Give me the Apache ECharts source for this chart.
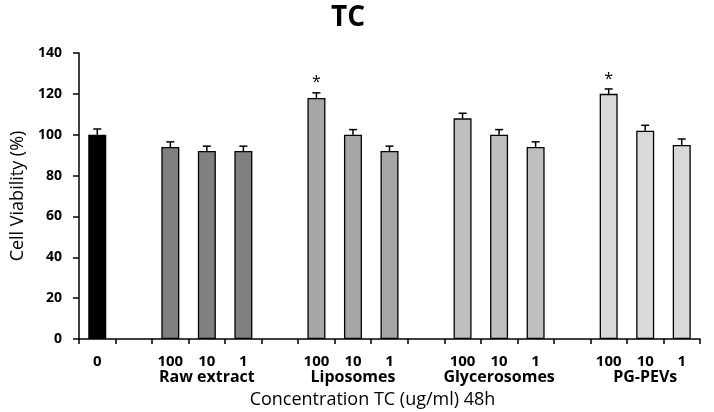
<!DOCTYPE html>
<html>
<head>
<meta charset="utf-8">
<script src="https://cdn.jsdelivr.net/npm/echarts@6/dist/echarts.min.js"></script>
<style>html,body{margin:0;padding:0;background:#fff}#c{width:714px;height:412px}</style>
</head>
<body>
<div id="c"></div>
<script>
const categories = ['0', '', '100', '10', '1', '', '100', '10', '1', '', '100', '10', '1', '', '100', '10', '1'];
const groupNames = ['', '', '', 'Raw extract', '', '', '', 'Liposomes', '', '', '', 'Glycerosomes', '', '', '', 'PG-PEVs', ''];
const values = [100, null, 94, 92, 92, null, 118, 100, 92, null, 108, 100, 94, null, 120, 102, 95];
const errors = [2.8, null, 2.5, 2.4, 2.4, null, 2.5, 2.5, 2.4, null, 2.5, 2.5, 2.5, null, 2.4, 2.6, 2.9];
const signif = ['', '', '', '', '', '', '*', '', '', '', '', '', '', '', '*', '', ''];
const groupColors = ['#000000', null, '#808080', '#808080', '#808080', null, '#a6a6a6', '#a6a6a6', '#a6a6a6', null, '#bfbfbf', '#bfbfbf', '#bfbfbf', null, '#d9d9d9', '#d9d9d9', '#d9d9d9'];
const yTicks = { min: 0, max: 140, interval: 20 };

const FONT = '"Open Sans", "Liberation Sans", sans-serif';

const barData = values.map((v, i) => v == null ? null : {
  value: v,
  itemStyle: { color: groupColors[i], borderColor: '#000', borderWidth: 1.3 }
});
const errData = values.map((v, i) => v == null ? null : [i, v, errors[i], signif[i]]).filter(d => d);

const chart = echarts.init(document.getElementById('c'), null, { renderer: 'canvas' });
chart.setOption({
  animation: false,
  backgroundColor: '#fff',
  title: {
    text: 'TC', left: 331, top: 4, padding: 0,
    textStyle: { fontFamily: FONT, fontSize: 28, fontWeight: 'bold', color: '#000' }
  },
  grid: { left: 79, right: 14, top: 53, bottom: 73, outerBoundsMode: 'none', containLabel: false },
  xAxis: {
    type: 'category',
    data: categories,
    boundaryGap: true,
    axisLine: { lineStyle: { color: '#000', width: 1.5 } },
    axisTick: { show: true, length: 5, lineStyle: { color: '#000', width: 1.5 }, interval: 0 },
    axisLabel: {
      interval: 0, margin: 15, color: '#000',
      formatter: (val, idx) => '{n|' + val + '}' + (groupNames[idx] ? '\n{g|' + groupNames[idx] + '}' : ''),
      rich: {
        n: { fontFamily: FONT, fontSize: 15, fontWeight: 'bold', color: '#000', lineHeight: 15 },
        g: { fontFamily: FONT, fontSize: 16, fontWeight: 'bold', color: '#000', lineHeight: 16 }
      }
    },
    name: 'Concentration TC (ug/ml) 48h',
    nameLocation: 'middle',
    nameGap: 52,
    nameTextStyle: { fontFamily: FONT, fontSize: 18, color: '#000', padding: [0, 34, 0, 0] }
  },
  yAxis: {
    type: 'value',
    min: yTicks.min, max: yTicks.max, interval: yTicks.interval,
    axisLine: { show: true, lineStyle: { color: '#000', width: 1.5 } },
    axisTick: { show: true, length: 6, lineStyle: { color: '#000', width: 1.5 } },
    splitLine: { show: false },
    axisLabel: { margin: 17, fontFamily: FONT, fontSize: 14, fontWeight: 'bold', color: '#000' },
    name: 'Cell Viability (%)',
    nameLocation: 'middle',
    nameGap: 51,
    nameTextStyle: { fontFamily: FONT, fontSize: 18, color: '#000' }
  },
  series: [
    {
      type: 'bar',
      data: barData,
      barWidth: 18,
      z: 2
    },
    {
      type: 'custom',
      data: errData,
      encode: { x: 0, y: 1 },
      z: 3,
      renderItem: (params, api) => {
        const i = api.value(0), v = api.value(1), e = api.value(2);
        const s = errData[params.dataIndex][3];
        const base = api.coord([i, v]);
        const top = api.coord([i, v + e]);
        const cw = 4;
        const children = [
          { type: 'line', shape: { x1: base[0], y1: base[1], x2: top[0], y2: top[1] }, style: { stroke: '#000', lineWidth: 1.5 } },
          { type: 'line', shape: { x1: top[0] - cw, y1: top[1], x2: top[0] + cw, y2: top[1] }, style: { stroke: '#000', lineWidth: 1.5 } }
        ];
        if (s) {
          children.push({ type: 'text', style: { text: s, x: top[0], y: top[1] - 10, align: 'center', verticalAlign: 'middle', fontSize: 16, fontFamily: FONT, fill: '#000' } });
        }
        return { type: 'group', children };
      }
    }
  ]
});
</script>
</body>
</html>
